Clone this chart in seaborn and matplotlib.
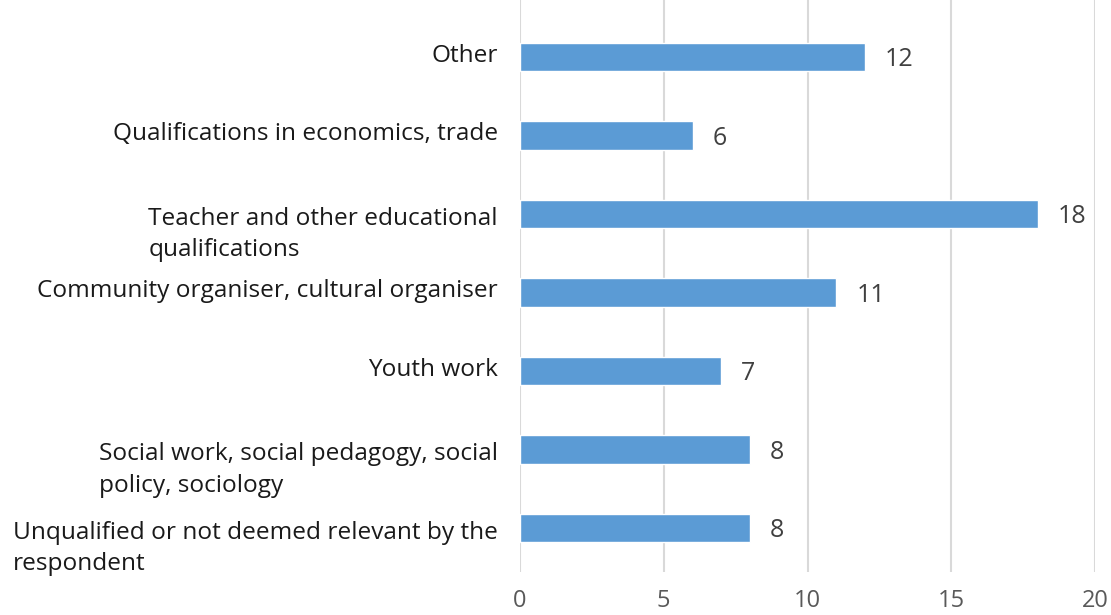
import matplotlib
matplotlib.use("Agg")
import matplotlib.pyplot as plt
import matplotlib.transforms as mtransforms
import seaborn as sns
import pandas as pd

categories = [
    "Other",
    "Qualifications in economics, trade",
    "Teacher and other educational\nqualifications",
    "Community organiser, cultural organiser",
    "Youth work",
    "Social work, social pedagogy, social\npolicy, sociology",
    "Unqualified or not deemed relevant by the\nrespondent",
]
counts = [12, 6, 18, 11, 7, 8, 8]
x_ticks = [0, 5, 10, 15, 20]

df = pd.DataFrame({"category": categories, "count": counts})

sns.set_theme(style="white")
plt.rcParams["font.family"] = ["Open Sans", "DejaVu Sans"]

fig = plt.figure(figsize=(11.11, 6.15), dpi=100)
ax = fig.add_axes([520 / 1111, 1 - 572 / 615, (1095 - 520) / 1111, 572 / 615])

sns.barplot(data=df, x="count", y="category", orient="h", color="#5B9BD5",
            width=0.36, saturation=1, ax=ax)

ax.set_xlim(0, 20)
ax.set_ylim(6.561, -0.726)
ax.set_xticks(x_ticks)
ax.set_xticklabels([str(t) for t in x_ticks], fontsize=17, color="#595959")
ax.tick_params(axis="x", length=0, pad=12)
ax.tick_params(axis="y", length=0, pad=16, labelsize=17.6, labelcolor="#1a1a1a")
for lbl in ax.get_yticklabels():
    lbl.set_linespacing(1.4)
    lbl.set_multialignment("left")
    # wrapped labels sit a little lower, single-line ones a touch higher
    dy = -14 / 100 if "\n" in lbl.get_text() else 4 / 100
    lbl.set_transform(lbl.get_transform() +
                      mtransforms.ScaledTranslation(0, dy, fig.dpi_scale_trans))
ax.set_xlabel("")
ax.set_ylabel("")
ax.grid(axis="x", color="#d9d9d9", linewidth=1.5)
ax.set_axisbelow(True)
for s in ax.spines.values():
    s.set_visible(False)

for i, v in enumerate(counts):
    ax.text(v + 0.7, i, str(v), va="center_baseline", ha="left", fontsize=18,
            color="#404040")

fig.savefig("out.png", dpi=100)
